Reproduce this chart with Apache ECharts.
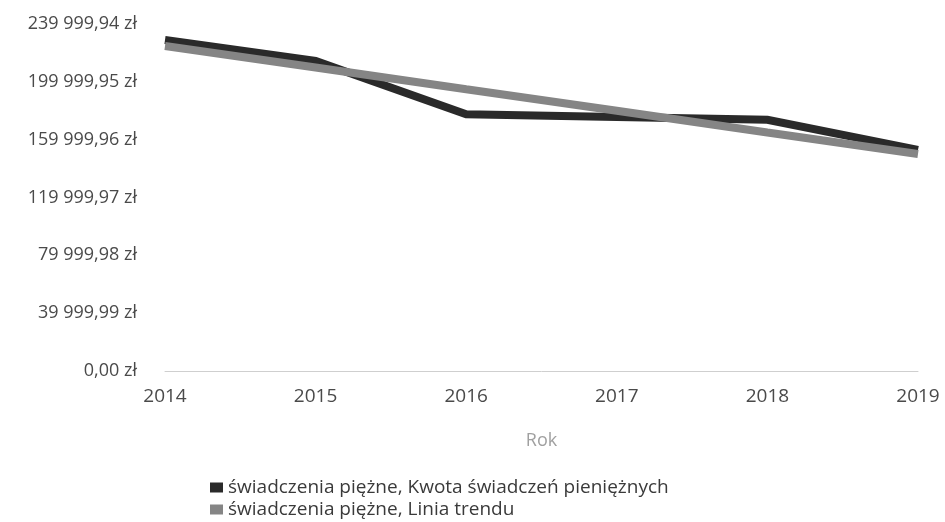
<!DOCTYPE html>
<html>
<head>
<meta charset="utf-8">
<script src="https://cdn.jsdelivr.net/npm/echarts@6/dist/echarts.min.js"></script>
<style>
html,body{margin:0;padding:0;background:#fff;}
#c{width:945px;height:522px;}
</style>
</head>
<body>
<div id="c"></div>
<script>
const years = ['2014','2015','2016','2017','2018','2019'];
const kwota = [228900, 214500, 177600, 175700, 173800, 152900];
const trend = [224800, 209900, 194900, 180000, 165000, 150100];
const seriesNames = ['świadczenia piężne, Kwota świadczeń pieniężnych', 'świadczenia piężne, Linia trendu'];
const yMax = 239999.94;
const yStep = 39999.99;

function fmt(v){
  const s = Math.abs(v).toFixed(2);
  const parts = s.split('.');
  const intp = parts[0].replace(/\B(?=(\d{3})+(?!\d))/g, ' ');
  return intp + ',' + parts[1] + ' zł';
}

const legendText = {color:'#3a3a3a', fontSize:19, fontFamily:'Open Sans'};
const chart = echarts.init(document.getElementById('c'), null, {renderer:'canvas'});
chart.setOption({
  animation:false,
  backgroundColor:'#fff',
  grid:{left:165, right:27, top:24, bottom:151, containLabel:false},
  legend:[
    {left:205, top:473, itemWidth:13, itemHeight:10, itemGap:5, icon:'rect',
     textStyle:legendText, data:[seriesNames[0]]},
    {left:205, top:495, itemWidth:13, itemHeight:10, itemGap:5, icon:'rect',
     textStyle:legendText, data:[seriesNames[1]]}
  ],
  xAxis:{
    type:'category', data:years, boundaryGap:false,
    name:'Rok', nameLocation:'middle', nameGap:61,
    nameTextStyle:{color:'#a0a0a0', fontSize:18, fontFamily:'Open Sans'},
    axisLine:{show:true, lineStyle:{color:'#cfcfcf', width:1}},
    axisTick:{show:false},
    axisLabel:{color:'#4a4a4a', fontSize:19, fontFamily:'Open Sans', margin:16}
  },
  yAxis:{
    type:'value', min:0, max:yMax, interval:yStep,
    axisLine:{show:false}, axisTick:{show:false},
    splitLine:{show:false},
    axisLabel:{color:'#4a4a4a', fontSize:18, fontFamily:'Open Sans', margin:28, formatter:fmt}
  },
  series:[
    {name:seriesNames[0], type:'line', data:kwota, symbol:'none',
     lineStyle:{color:'#2a2a2a', width:8, cap:'butt', join:'miter'}, itemStyle:{color:'#2a2a2a'}},
    {name:seriesNames[1], type:'line', data:trend, symbol:'none',
     lineStyle:{color:'#858585', width:8, cap:'butt'}, itemStyle:{color:'#858585'}}
  ]
});
</script>
</body>
</html>
